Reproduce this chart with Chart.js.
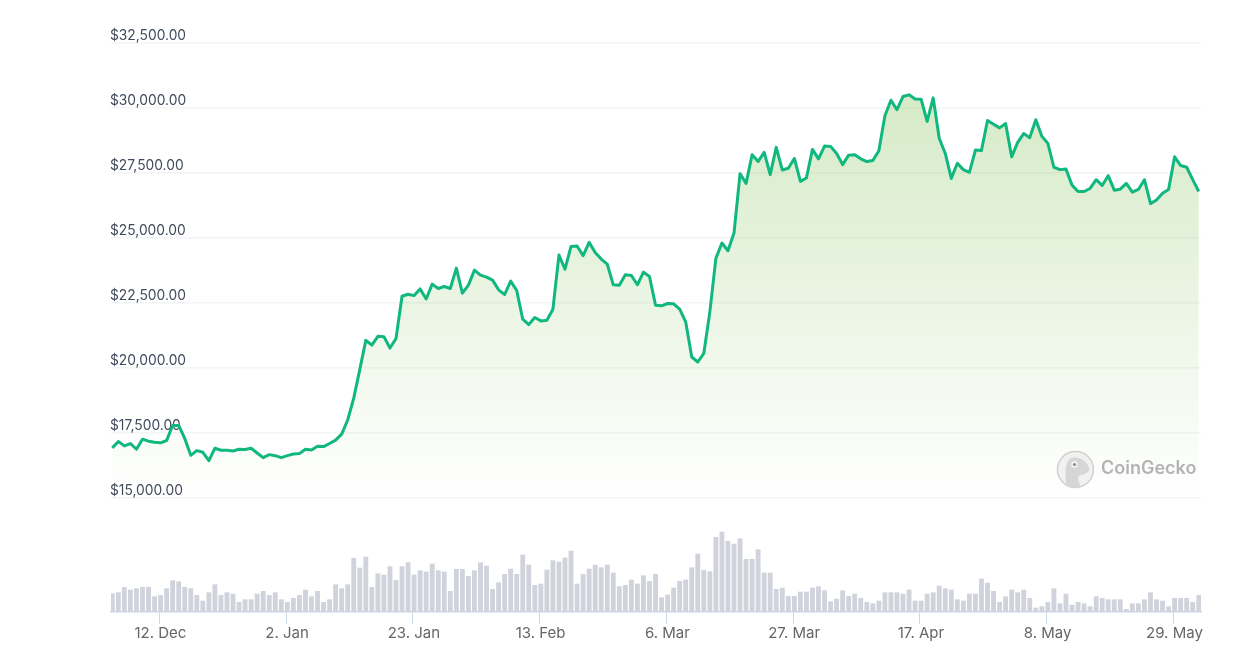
<!DOCTYPE html>
<html>
<head>
<meta charset="utf-8">
<style>html,body{margin:0;padding:0;background:#fff}canvas{display:block}</style>
<script src="https://cdn.jsdelivr.net/npm/chart.js@4/dist/chart.umd.min.js"></script>
</head>
<body>
<canvas id="c" width="1247" height="658"></canvas>
<script>
// Price in USD, one reading per day
const prices = [
16927,17172,17004,17095,16875,17263,17185,17146,17121,17211,
17793,17793,17289,16642,16823,16758,16435,16914,16836,16836,
16810,16875,16862,16914,16733,16552,16668,16629,16552,16629,
16694,16707,16875,16849,16991,16978,17095,17224,17457,18000,
18840,19939,21064,20883,21219,21206,20767,21129,22758,22836,
22784,23042,22655,
23225,23058,23135,23058,23842,22878,23187,23765,23572,23495,
23380,23007,22827,23341,22981,21876,21670,21940,21812,21838,
22262,24343,23804,24677,24690,24318,24832,24446,24189,23996,
23200,23187,23585,23559,23200,23688,23521,22416,22390,22480,
22467,22262,21773,20424,20231,20565,22159,24215,24806,24510,
25191,
27475,27099,28200,27941,28291,27436,28485,27617,27682,28058,
27177,27306,28407,28045,28537,28524,28252,27824,28187,28200,
28045,27941,27980,28355,29702,30298,29935,30440,30505,30350,
30337,29482,30389,28834,28252,27293,27876,27630,27527,28381,
28368,29521,29378,29236,29404,28122,28679,29016,28860,29547,
28912,28640,27721,27630,27656,27034,26788,26788,26905,27242,
27021,27397,26840,26879,27099,26762,26866,27242,26322,26465,
26724,26866,28122,27786,27721,27242,26788];
// Traded volume, USD billions
const volumes = [
22,23.2,29.6,26.4,28,29.6,29.6,18.4,20,28,
37.6,36.4,29.6,28,20,13.2,23.2,32.8,20,23.2,
21.6,11.6,14.8,14.8,21.6,24.8,20,23.2,14.8,11.6,
16.4,20,26.4,18.4,24.8,11.6,14.8,32.8,28,32.8,
64.4,52.8,66,29.6,46,44.4,54.4,38,54.4,59.2,
44.4,49.6,48,57.6,49.6,48,24.8,51.2,51.2,42.8,
49.6,59.2,
55.2,27.2,35.2,45.2,51.6,45.2,68.4,56.4,32,33.6,
50.4,61.6,60,64.8,73.2,33.6,45.2,51.6,56.4,53.2,
56.4,46.8,30.4,32,38.4,33.6,43.6,36.8,45.2,17.2,
20.4,28.8,36.8,38.4,53.2,69.6,50,48.4,89.6,96,
84.8,81.6,88,63.2,63.2,74.8,46.8,46.8,27.2,28.8,
18.8,18.8,24,24,28.8,30.4,25.6,12.4,15.6,25.6,
18.8,
21.6,16.4,11.6,10,13.2,23.2,23.2,23.2,21.6,26.4,
13.2,13.2,21.6,23.2,31.2,28,26.4,14.8,13.2,21.6,
21.6,39.6,34.8,24.8,11.6,18.4,26.4,23.2,26.4,16.4,
4.8,6.4,11.6,28,10,21.6,8.4,11.6,10,6.4,
18.4,16.4,14.8,14.8,14.8,3.2,10,10,14.8,23.2,
14.8,13.2,6.4,16.4,16.4,16.4,11.6,20];
const dayTicks = [7.8,28.8,49.8,70.8,91.8,112.8,133.8,154.8,175.8];
const dayLabels = ['12. Dec','2. Jan','23. Jan','13. Feb','6. Mar','27. Mar','17. Apr','8. May','29. May'];
const priceTicks = [15000,17500,20000,22500,25000,27500,30000,32500];

const FONT = 'Inter, sans-serif';

const watermark = {
  id:'watermark',
  afterDraw(chart){
    const g = chart.ctx;
    g.save();
    const cx=1075.5, cy=469.5, r=18;
    g.beginPath(); g.arc(cx,cy,r,0,Math.PI*2);
    g.fillStyle='#f1f1f1'; g.fill();
    g.lineWidth=1.5; g.strokeStyle='#d0d0d0'; g.stroke();
    // gecko body
    g.beginPath();
    g.moveTo(cx-9,cy+17);
    g.bezierCurveTo(cx-10,cy+4,cx-12,cy-10,cx-2,cy-12);
    g.bezierCurveTo(cx+6,cy-13,cx+13,cy-6,cx+14,cy);
    g.bezierCurveTo(cx+12,cy+5,cx+5,cy+5,cx+3,cy+7);
    g.bezierCurveTo(cx+2,cy+11,cx+4,cy+14,cx+5,cy+16);
    g.bezierCurveTo(cx,cy+19,cx-5,cy+18,cx-9,cy+17);
    g.closePath();
    g.fillStyle='#d6d6d6'; g.fill();
    g.beginPath(); g.arc(cx-1,cy-5,3.2,0,Math.PI*2); g.fillStyle='#f4f4f4'; g.fill();
    g.beginPath(); g.arc(cx-1,cy-5,1.6,0,Math.PI*2); g.fillStyle='#8e8e8e'; g.fill();
    // wordmark
    g.font='600 18px '+FONT;
    g.fillStyle='#b3b3b3';
    g.textAlign='left'; g.textBaseline='middle';
    g.fillText('CoinGecko',1101,469);
    g.restore();
  }
};

new Chart(document.getElementById('c'),{
  type:'bar',
  data:{
    datasets:[
      {
        type:'line',
        yAxisID:'y', xAxisID:'x',
        data:prices.map((v,i)=>({x:i,y:v})),
        borderColor:'#10b77f',
        borderWidth:3,
        pointRadius:0,
        tension:0,
        borderJoinStyle:'round',
        fill:{value:15000},
        backgroundColor(ctx){
          const ch=ctx.chart;
          if(!ch.chartArea) return 'transparent';
          const s=ch.scales.y;
          const gr=ch.ctx.createLinearGradient(0,s.getPixelForValue(30500),0,s.getPixelForValue(15000));
          gr.addColorStop(0,'rgba(140,198,100,0.36)');
          gr.addColorStop(1,'rgba(140,198,100,0)');
          return gr;
        },
        order:1
      },
      {
        type:'bar',
        yAxisID:'yVol', xAxisID:'x',
        data:volumes.map((v,i)=>({x:i,y:v})),
        backgroundColor:'#d1d3dc',
        barThickness:4.2,
        order:2
      }
    ]
  },
  options:{
    responsive:false,
    animation:false,
    parsing:true,
    layout:{padding:{left:111,right:46,top:43,bottom:0}},
    plugins:{legend:{display:false},tooltip:{enabled:false}},
    scales:{
      x:{
        type:'linear',
        offset:false,
        min:-0.215,
        max:180.37,
        border:{color:'#ccd6eb',width:1.5},
        grid:{offset:false,drawOnChartArea:false,drawTicks:true,tickColor:'#ccd6eb',tickLength:12,tickWidth:1},
        afterBuildTicks(a){a.ticks=dayTicks.map(v=>({value:v}));},
        afterFit(a){a.height=46;},
        ticks:{
          autoSkip:false,maxRotation:0,minRotation:0,padding:0,labelOffset:1,
          color:'#666666',
          font:{family:FONT,size:15},
          callback(v){const i=dayTicks.indexOf(v);return i<0?'':dayLabels[i];}
        }
      },
      y:{
        type:'linear',
        position:'left',
        min:10615.4,
        max:32500,
        border:{display:false},
        grid:{color:'#f3f4f6',lineWidth:1.5,drawTicks:false},
        afterBuildTicks(a){a.ticks=priceTicks.map(v=>({value:v}));},
        afterFit(a){a.width=0;},
        ticks:{
          mirror:true,padding:-1,labelOffset:-7,
          color:'#404a5c',
          font:{family:FONT,size:13.8},
          callback(v){return '$'+v.toLocaleString('en-US',{minimumFractionDigits:2,maximumFractionDigits:2});}
        }
      },
      yVol:{
        type:'linear',
        display:false,
        min:0,
        max:682.8
      }
    }
  },
  plugins:[watermark]
});
</script>
</body>
</html>
